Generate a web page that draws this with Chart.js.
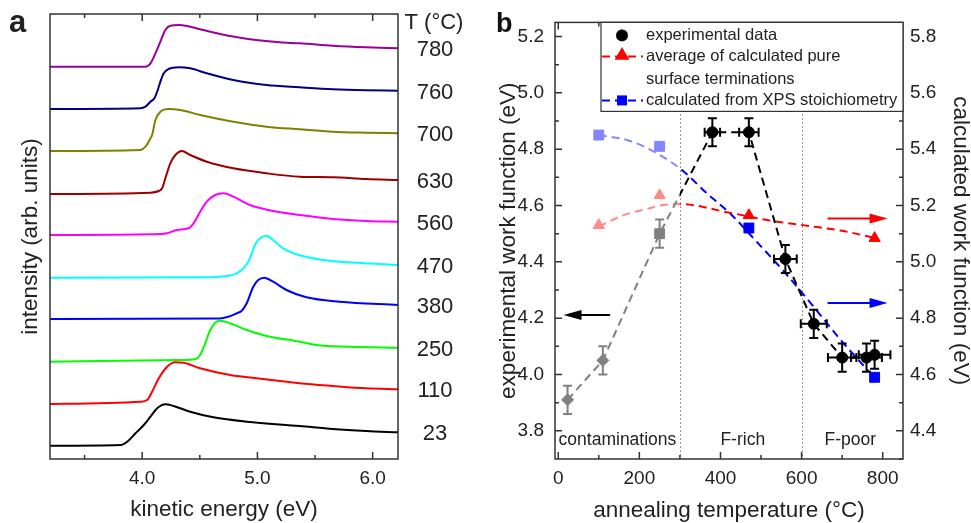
<!DOCTYPE html>
<html>
<head>
<meta charset="utf-8">
<script src="https://cdn.jsdelivr.net/npm/chart.js@4.4.1/dist/chart.umd.min.js"></script>
<style>
  body { margin: 0; background: #fff; }
  #wrap { position: relative; width: 971px; height: 523px; }
  canvas { position: absolute; top: 0; }
  #specChart { left: 0; }
  #wfChart { left: 480px; }
</style>
</head>
<body>
<div id="wrap">
  <canvas id="specChart" width="480" height="523"></canvas>
  <canvas id="wfChart" width="491" height="523"></canvas>
</div>
<script>
const FONT = "'Liberation Sans', Arial, sans-serif";
Chart.defaults.font.family = FONT;
Chart.defaults.color = '#222';

// ---- (a) cutoff spectra ----
const spectraTemps = [23, 110, 250, 380, 470, 560, 630, 700, 760, 780];
const spectraColors = ['#000000', '#ff0000', '#00ff00', '#0000ff', '#00ffff', '#ff00ff', '#990000', '#808000', '#000080', '#990099'];
// vertical shift of each trace
const spectraOffsets = [1.33, 5.5, 9.73, 14.0, 18.13, 22.4, 26.5, 30.8, 35.0, 39.23];
const energyTicks = [4.0, 5.0, 6.0];

const ke23 = [3.2, 3.813, 3.87, 3.942, 4.014, 4.072, 4.13, 4.201, 4.273, 4.417, 4.618, 4.907, 5.367, 5.655, 5.943, 6.22];
const int23 = [0, 0.07, 0.4, 1.24, 2.07, 2.9, 3.74, 4.14, 3.97, 3.4, 2.84, 2.4, 1.97, 1.67, 1.47, 1.34];
const ke110 = [3.2, 3.985, 4.043, 4.086, 4.144, 4.216, 4.288, 4.359, 4.503, 4.763, 5.05, 5.367, 5.655, 5.943, 6.22];
const int110 = [0, 0.23, 0.4, 1.23, 2.57, 3.73, 4.17, 4.13, 3.57, 2.9, 2.5, 2.07, 1.8, 1.57, 1.47];
const ke250 = [3.2, 4.331, 4.46, 4.503, 4.547, 4.59, 4.633, 4.676, 4.763, 4.907, 5.079, 5.367, 5.511, 5.799, 6.22];
const int250 = [0, 0.17, 0.27, 0.67, 1.84, 3.17, 3.9, 4.1, 3.84, 3.17, 2.57, 2.0, 1.67, 1.5, 1.4];
const ke380 = [3.2, 4.676, 4.748, 4.82, 4.864, 4.907, 4.964, 5.007, 5.059, 5.136, 5.252, 5.425, 5.712, 6.22];
const int380 = [0, 0.05, 0.23, 0.57, 0.83, 1.57, 3.23, 3.9, 4.13, 3.73, 2.9, 2.17, 1.73, 1.4];
const ke470 = [3.2, 4.503, 4.734, 4.82, 4.892, 4.935, 4.978, 5.022, 5.073, 5.136, 5.223, 5.338, 5.568, 5.857, 6.22];
const int470 = [0, 0.04, 0.17, 0.44, 1.1, 1.94, 3.27, 3.94, 4.2, 3.77, 2.94, 2.34, 1.77, 1.5, 1.27];
const ke560 = [3.2, 4.072, 4.216, 4.302, 4.402, 4.446, 4.503, 4.561, 4.633, 4.705, 4.791, 4.935, 5.136, 5.367, 5.655, 5.943, 6.22];
const int560 = [0, 0.07, 0.17, 0.5, 0.67, 1.17, 2.33, 3.33, 4.0, 4.17, 3.83, 3.0, 2.4, 2.0, 1.6, 1.4, 1.33];
const ke630 = [3.2, 4.072, 4.144, 4.173, 4.201, 4.244, 4.288, 4.345, 4.417, 4.561, 4.791, 5.079, 5.367, 5.655, 5.943, 6.22];
const int630 = [0, 0.13, 0.3, 0.57, 1.57, 3.07, 3.9, 4.3, 3.9, 3.23, 2.57, 2.07, 1.73, 1.67, 1.5, 1.4];
const ke700 = [3.2, 3.985, 4.028, 4.072, 4.086, 4.115, 4.158, 4.23, 4.331, 4.503, 4.791, 5.079, 5.367, 5.655, 5.943, 6.22];
const int700 = [0, 0.1, 0.43, 1.27, 1.6, 3.1, 3.93, 4.2, 4.1, 3.6, 2.93, 2.43, 2.17, 1.93, 1.83, 1.77];
const ke760 = [3.2, 3.985, 4.028, 4.072, 4.106, 4.135, 4.158, 4.187, 4.23, 4.316, 4.417, 4.561, 4.791, 5.079, 5.367, 5.655, 5.943, 6.22];
const int760 = [0, 0.07, 0.23, 0.73, 1.07, 1.9, 2.73, 3.57, 4.0, 4.17, 4.07, 3.57, 2.9, 2.4, 2.17, 1.97, 1.87, 1.83];
const ke780 = [3.2, 4.028, 4.072, 4.115, 4.158, 4.201, 4.244, 4.316, 4.389, 4.503, 4.676, 4.935, 5.194, 5.367, 5.655, 5.943, 6.22];
const int780 = [0, 0, 0.34, 1.34, 2.5, 3.67, 4.1, 4.17, 4.07, 3.74, 3.27, 2.74, 2.44, 2.34, 2.1, 1.94, 1.84];

const traces = [[ke23, int23], [ke110, int110], [ke250, int250], [ke380, int380], [ke470, int470],
                [ke560, int560], [ke630, int630], [ke700, int700], [ke760, int760], [ke780, int780]];

// ---- (b) work function vs annealing temperature ----
const annealTemps = [23, 110, 250, 380, 470, 560, 630, 700, 760, 780];
const expWF = [3.91, 4.05, 4.50, 4.86, 4.86, 4.41, 4.18, 4.06, 4.06, 4.07];
const expWFErr = [0.05, 0.05, 0.05, 0.05, 0.05, 0.05, 0.05, 0.05, 0.05, 0.05];
const expTempErr = [1, 6, 12, 19, 24, 28, 32, 35, 38, 39];
const calcTemps = [100, 250, 470, 780];
const avgTermWF = [5.13, 5.236, 5.165, 5.084];
const xpsWF = [5.45, 5.41, 5.12, 4.59];
// guide-to-the-eye curves through the calculated values
const avgGuideT = [100, 160, 225, 250, 300, 420, 520, 620, 700, 780];
const avgGuideWF = [5.125, 5.165, 5.19, 5.2, 5.205, 5.175, 5.147, 5.127, 5.11, 5.085];
const xpsGuideT = [100, 175, 250, 310, 365, 425, 490, 560, 630, 695, 760, 780];
const xpsGuideWF = [5.45, 5.43, 5.38, 5.32, 5.245, 5.17, 5.07, 4.96, 4.84, 4.725, 4.62, 4.59];
const tempTicks = [0, 200, 400, 600, 800];
const expTicks = [3.8, 4.0, 4.2, 4.4, 4.6, 4.8, 5.0, 5.2];
const calcTicks = [4.4, 4.6, 4.8, 5.0, 5.2, 5.4, 5.6, 5.8];
const regionBounds = [300, 600];
const regionNames = ['contaminations', 'F-rich', 'F-poor'];
const regionLabelT = [146, 455, 720];

const GRAY = '#808080', LRED = '#ff8a8a', LBLUE = '#8585ff';
const tickFont = { size: 19 };
const titleFont = { size: 22.5, lineHeight: 1 };

// box around the plot with inward major/minor ticks
const framePlugin = {
  id: 'frame',
  afterDatasetsDraw(chart, args, opts) {
    const { ctx, chartArea: a } = chart;
    ctx.save();
    ctx.strokeStyle = '#333';
    ctx.lineWidth = 1.5;
    (opts.axes || []).forEach(ax => {
      const s = chart.scales[ax.id];
      const major = s.ticks.map(t => t.value);
      const step = major[1] - major[0];
      const minor = [major[0] - step / 2].concat(major.map(v => v + step / 2))
        .filter(v => v > s.min && v < s.max);
      const marks = major.map(v => [v, 7]).concat(minor.map(v => [v, 4]));
      ax.sides.forEach(side => {
        ctx.beginPath();
        marks.forEach(([v, len]) => {
          const p = s.getPixelForValue(v);
          if (side === 'bottom') { ctx.moveTo(p, a.bottom); ctx.lineTo(p, a.bottom - len); }
          if (side === 'top') { ctx.moveTo(p, a.top); ctx.lineTo(p, a.top + len); }
          if (side === 'left') { ctx.moveTo(a.left, p); ctx.lineTo(a.left + len, p); }
          if (side === 'right') { ctx.moveTo(a.right, p); ctx.lineTo(a.right - len, p); }
        });
        ctx.stroke();
      });
    });
    ctx.strokeRect(a.left, a.top, a.width, a.height);
    ctx.restore();
  }
};

const specLabels = {
  id: 'specLabels',
  afterDraw(chart) {
    const { ctx, chartArea: a } = chart;
    const ys = chart.scales.y;
    ctx.save();
    ctx.fillStyle = '#222';
    ctx.font = '22px ' + FONT;
    ctx.textAlign = 'center';
    ctx.textBaseline = 'middle';
    traces.forEach((tr, i) => {
      const last = tr[1][tr[1].length - 1] + spectraOffsets[i];
      ctx.fillText(String(spectraTemps[i]), a.right + 37, ys.getPixelForValue(last) + 2);
    });
    ctx.fillText('T (°C)', a.right + 36, 23);
    ctx.font = 'bold 31px ' + FONT;
    ctx.textAlign = 'left';
    ctx.textBaseline = 'alphabetic';
    ctx.fillText('a', 9, 32);
    ctx.restore();
  }
};

new Chart(document.getElementById('specChart'), {
  type: 'line',
  data: {
    datasets: traces.map(([e, v], i) => ({
      data: e.map((x, j) => ({ x, y: v[j] + spectraOffsets[i] })),
      borderColor: spectraColors[i],
      borderWidth: 2,
      pointRadius: 0,
      cubicInterpolationMode: 'monotone',
      fill: false
    }))
  },
  options: {
    responsive: false,
    animation: false,
    layout: { padding: { top: 14, right: 82, left: 0, bottom: 0 } },
    plugins: {
      legend: { display: false },
      tooltip: { enabled: false },
      frame: { axes: [{ id: 'x', sides: ['bottom', 'top'] }] }
    },
    scales: {
      x: {
        type: 'linear', min: 3.2, max: 6.22,
        afterBuildTicks: s => { s.ticks = energyTicks.map(v => ({ value: v })); },
        afterFit: s => { s.height = 64; },
        grid: { display: false, drawTicks: false },
        border: { display: false },
        ticks: { padding: 8, font: tickFont, color: '#222', callback: v => Number(v).toFixed(1) },
        title: { display: true, text: 'kinetic energy (eV)', font: titleFont, color: '#222', padding: { top: 0, bottom: 2 } }
      },
      y: {
        min: 0, max: 44.5,
        afterFit: s => { s.width = 50; },
        grid: { display: false, drawTicks: false },
        border: { display: false },
        ticks: { display: false },
        title: { display: true, text: 'intensity (arb. units)', font: titleFont, color: '#222', padding: { top: 20, bottom: 0 } }
      }
    }
  },
  plugins: [framePlugin, specLabels]
});

// stroke that is pale below the first region boundary and full colour above it
function splitStroke(chart, light, dark) {
  const a = chart.chartArea;
  if (!a) return dark;
  const xs = chart.scales.x;
  const f = Math.min(1, Math.max(0, (xs.getPixelForValue(regionBounds[0]) - a.left) / a.width));
  const g = chart.ctx.createLinearGradient(a.left, 0, a.right, 0);
  g.addColorStop(0, light);
  g.addColorStop(f, light);
  g.addColorStop(f, dark);
  g.addColorStop(1, dark);
  return g;
}

const errorBars = {
  id: 'errorBars',
  beforeDatasetDraw(chart, args) {
    if (args.index !== 0) return;
    const { ctx } = chart;
    const xs = chart.scales.x, ys = chart.scales.y;
    const cap = 4.5;
    ctx.save();
    ctx.lineWidth = 2;
    annealTemps.forEach((t, i) => {
      ctx.strokeStyle = t < regionBounds[0] ? GRAY : '#000';
      const px = xs.getPixelForValue(t), py = ys.getPixelForValue(expWF[i]);
      const y0 = ys.getPixelForValue(expWF[i] - expWFErr[i]);
      const y1 = ys.getPixelForValue(expWF[i] + expWFErr[i]);
      const x0 = xs.getPixelForValue(t - expTempErr[i]);
      const x1 = xs.getPixelForValue(t + expTempErr[i]);
      ctx.beginPath();
      ctx.moveTo(px, y0); ctx.lineTo(px, y1);
      ctx.moveTo(px - cap, y0); ctx.lineTo(px + cap, y0);
      ctx.moveTo(px - cap, y1); ctx.lineTo(px + cap, y1);
      if (x1 - x0 > 12) {
        ctx.moveTo(x0, py); ctx.lineTo(x1, py);
        ctx.moveTo(x0, py - cap); ctx.lineTo(x0, py + cap);
        ctx.moveTo(x1, py - cap); ctx.lineTo(x1, py + cap);
      }
      ctx.stroke();
    });
    ctx.restore();
  }
};

function arrow(ctx, x0, x1, y, color) {
  const dir = Math.sign(x1 - x0);
  ctx.strokeStyle = color;
  ctx.fillStyle = color;
  ctx.lineWidth = 2;
  ctx.beginPath();
  ctx.moveTo(x0, y); ctx.lineTo(x1 - dir * 14, y);
  ctx.stroke();
  ctx.beginPath();
  ctx.moveTo(x1, y);
  ctx.lineTo(x1 - dir * 18, y - 5);
  ctx.lineTo(x1 - dir * 18, y + 5);
  ctx.closePath();
  ctx.fill();
}

const regionMarks = {
  id: 'regionMarks',
  beforeDatasetsDraw(chart) {
    const { ctx, chartArea: a } = chart;
    const xs = chart.scales.x;
    ctx.save();
    ctx.strokeStyle = '#777';
    ctx.lineWidth = 1;
    ctx.setLineDash([1.5, 2.5]);
    regionBounds.forEach(t => {
      const p = Math.round(xs.getPixelForValue(t)) + 0.5;
      ctx.beginPath(); ctx.moveTo(p, a.top); ctx.lineTo(p, a.bottom); ctx.stroke();
    });
    ctx.restore();
  },
  afterDatasetsDraw(chart) {
    const { ctx } = chart;
    const xs = chart.scales.x, ys = chart.scales.y, y2 = chart.scales.y2;
    ctx.save();
    ctx.fillStyle = '#222';
    ctx.font = '17.5px ' + FONT;
    ctx.textAlign = 'center';
    ctx.textBaseline = 'middle';
    regionNames.forEach((n, i) => ctx.fillText(n, xs.getPixelForValue(regionLabelT[i]), ys.getPixelForValue(3.766)));
    // which axis each data set belongs to
    arrow(ctx, xs.getPixelForValue(128), xs.getPixelForValue(13), ys.getPixelForValue(4.211), '#000');
    arrow(ctx, xs.getPixelForValue(664), xs.getPixelForValue(812), y2.getPixelForValue(5.154), '#ff0000');
    arrow(ctx, xs.getPixelForValue(664), xs.getPixelForValue(812), y2.getPixelForValue(4.854), '#0000ff');
    ctx.restore();
  }
};

const boxLegend = {
  id: 'boxLegend',
  afterDraw(chart) {
    const { ctx, chartArea: a } = chart;
    const left = a.left + 46, top = a.top;
    ctx.save();
    ctx.fillStyle = '#fff';
    ctx.fillRect(left, top, a.right - left, 89);
    ctx.strokeStyle = '#333';
    ctx.lineWidth = 1.2;
    ctx.strokeRect(left, top, a.right - left, 89);
    const mx = left + 21, tx = left + 45;
    const sample = (y, color) => {
      ctx.strokeStyle = color; ctx.lineWidth = 2; ctx.setLineDash([8, 5]);
      ctx.beginPath(); ctx.moveTo(left + 1, y); ctx.lineTo(left + 42, y); ctx.stroke();
      ctx.setLineDash([]);
    };
    Chart.helpers.drawPoint(ctx, { pointStyle: 'circle', radius: 5.5, borderWidth: 1 }, mx, top + 13);
    ctx.fillStyle = '#000'; ctx.strokeStyle = '#000';
    ctx.beginPath(); ctx.arc(mx, top + 13, 5.5, 0, Math.PI * 2); ctx.fill();
    sample(top + 34, '#ff0000');
    ctx.fillStyle = '#ff0000'; ctx.strokeStyle = '#ff0000';
    Chart.helpers.drawPoint(ctx, { pointStyle: 'triangle', radius: 6.5, borderWidth: 1 }, mx, top + 33);
    ctx.fill();
    sample(top + 78, '#0000ff');
    ctx.fillStyle = '#0000ff';
    ctx.fillRect(mx - 5, top + 73, 10, 10);
    ctx.fillStyle = '#222';
    ctx.font = '16.5px ' + FONT;
    ctx.textBaseline = 'middle';
    ctx.textAlign = 'left';
    ctx.fillText('experimental data', tx, top + 13);
    ctx.fillText('average of calculated pure', tx, top + 34);
    ctx.fillText('surface terminations', tx, top + 57);
    ctx.fillText('calculated from XPS stoichiometry', tx, top + 78);
    ctx.font = 'bold 27px ' + FONT;
    ctx.textBaseline = 'alphabetic';
    ctx.fillStyle = '#111';
    ctx.fillText('b', 16, 32);
    ctx.restore();
  }
};

const byRegion = (temps, light, dark) => temps.map(t => t < regionBounds[0] ? light : dark);

new Chart(document.getElementById('wfChart'), {
  type: 'line',
  data: {
    datasets: [
      {
        data: annealTemps.map((t, i) => ({ x: t, y: expWF[i] })),
        yAxisID: 'y',
        borderColor: c => splitStroke(c.chart, GRAY, '#000'),
        borderWidth: 2,
        borderDash: [8, 5],
        tension: 0,
        pointStyle: ['rectRot', 'rectRot', 'rect', 'circle', 'circle', 'circle', 'circle', 'circle', 'circle', 'circle'],
        pointRadius: [6, 6, 7, 5.5, 5.5, 5.5, 5.5, 5.5, 5.5, 5.5],
        pointBackgroundColor: byRegion(annealTemps, GRAY, '#000'),
        pointBorderColor: byRegion(annealTemps, GRAY, '#000'),
        pointBorderWidth: 1
      },
      {
        data: avgGuideT.map((t, i) => ({ x: t, y: avgGuideWF[i] })),
        yAxisID: 'y2',
        borderColor: c => splitStroke(c.chart, LRED, '#ff0000'),
        borderWidth: 2,
        borderDash: [8, 5],
        pointRadius: 0,
        cubicInterpolationMode: 'monotone'
      },
      {
        data: xpsGuideT.map((t, i) => ({ x: t, y: xpsGuideWF[i] })),
        yAxisID: 'y2',
        borderColor: c => splitStroke(c.chart, LBLUE, '#0000ff'),
        borderWidth: 2,
        borderDash: [8, 5],
        pointRadius: 0,
        cubicInterpolationMode: 'monotone'
      },
      {
        data: calcTemps.map((t, i) => ({ x: t, y: avgTermWF[i] })),
        yAxisID: 'y2',
        showLine: false,
        pointStyle: 'triangle',
        pointRadius: 6.5,
        pointBackgroundColor: byRegion(calcTemps, LRED, '#ff0000'),
        pointBorderColor: byRegion(calcTemps, LRED, '#ff0000'),
        pointBorderWidth: 1
      },
      {
        data: calcTemps.map((t, i) => ({ x: t, y: xpsWF[i] })),
        yAxisID: 'y2',
        showLine: false,
        pointStyle: 'rect',
        pointRadius: 7,
        pointBackgroundColor: byRegion(calcTemps, LBLUE, '#0000ff'),
        pointBorderColor: byRegion(calcTemps, LBLUE, '#0000ff'),
        pointBorderWidth: 1
      }
    ]
  },
  options: {
    responsive: false,
    animation: false,
    layout: { padding: { top: 13, right: 0, left: 0, bottom: 0 } },
    plugins: {
      legend: { display: false },
      tooltip: { enabled: false },
      frame: { axes: [{ id: 'x', sides: ['bottom', 'top'] }, { id: 'y', sides: ['left'] }, { id: 'y2', sides: ['right'] }] }
    },
    scales: {
      x: {
        type: 'linear', min: -8, max: 850,
        afterBuildTicks: s => { s.ticks = tempTicks.map(v => ({ value: v })); },
        afterFit: s => { s.height = 64; },
        grid: { display: false, drawTicks: false },
        border: { display: false },
        ticks: { padding: 8, font: tickFont, color: '#222' },
        title: { display: true, text: 'annealing temperature (°C)', font: titleFont, color: '#222', padding: { top: 0, bottom: 1 } }
      },
      y: {
        position: 'left', min: 3.7, max: 5.25,
        afterBuildTicks: s => { s.ticks = expTicks.map(v => ({ value: v })); },
        afterFit: s => { s.width = 75; },
        grid: { display: false, drawTicks: false },
        border: { display: false },
        ticks: { padding: 11, font: tickFont, color: '#222', callback: v => Number(v).toFixed(1) },
        title: { display: true, text: 'experimental work function (eV)', font: titleFont, color: '#222', padding: { top: 17.5, bottom: 0 } }
      },
      y2: {
        position: 'right', min: 4.3, max: 5.85,
        afterBuildTicks: s => { s.ticks = calcTicks.map(v => ({ value: v })); },
        afterFit: s => { s.width = 68; },
        grid: { display: false, drawTicks: false },
        border: { display: false },
        ticks: { padding: 7, font: tickFont, color: '#222', callback: v => Number(v).toFixed(1) },
        title: { display: true, text: 'calculated work function (eV)', font: titleFont, color: '#222', padding: { top: 0, bottom: 0 } }
      }
    }
  },
  plugins: [regionMarks, errorBars, framePlugin, boxLegend]
});
</script>
</body>
</html>
